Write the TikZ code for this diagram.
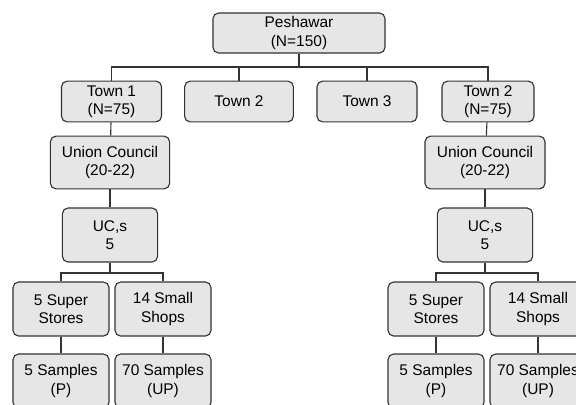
\documentclass[tikz,border=0pt]{standalone}
\usepackage{fontspec}
\setmainfont{Liberation Sans}
\definecolor{boxfill}{HTML}{E6E6E6}
\definecolor{boxline}{HTML}{333333}
\tikzset{
  unit/.style={draw=boxline, fill=boxfill, line width=0.8pt, rounded corners=4pt,
    align=center, inner sep=0pt, minimum height=1.35cm, minimum width=2.4cm,
    font=\fontsize{11}{13}\selectfont},
  town/.style={unit, minimum height=1.02cm},
  link/.style={draw=boxline, line width=0.8pt}
}
\begin{document}
\begin{tikzpicture}[x=0.025cm, y=-0.025cm]
\path[use as bounding box, clip] (0,0) rectangle (576,404);

\node[town, minimum width=4.3cm, minimum height=1cm] (pesh) at (299,33) {Peshawar\\(N=150)};
\node[town, minimum width=2.5cm] (t1) at (111.5,101.5) {Town 1\\(N=75)};
\node[town, minimum width=2.72cm] (t2) at (239,101.5) {Town 2};
\node[town, minimum width=2.5cm] (t3) at (367,101.5) {Town 3};
\node[town, minimum width=2.3cm] (t4) at (488,101.5) {Town 2\\(N=75)};

\node[unit, minimum width=2.98cm, minimum height=1.32cm] (uc1) at (110,162.5) {Union Council\\(20-22)};
\node[unit, minimum width=2.38cm] (ucs1) at (110,235) {UC,s\\5};
\node[unit] (ss1) at (61,309) {5 Super\\Stores};
\node[unit] (sh1) at (163,309) {14 Small\\Shops};
\node[unit] (sa1) at (61,381) {5 Samples\\(P)};
\node[unit] (sa2) at (163,381) {70 Samples\\(UP)};

\node[unit, minimum width=3cm, minimum height=1.32cm] (uc2) at (485,162.5) {Union Council\\(20-22)};
\node[unit, minimum width=2.38cm] (ucs2) at (485,235) {UC,s\\5};
\node[unit] (ss2) at (436,309) {5 Super\\Stores};
\node[unit] (sh2) at (538,309) {14 Small\\Shops};
\node[unit] (sa3) at (436,381) {5 Samples\\(P)};
\node[unit] (sa4) at (538,381) {70 Samples\\(UP)};

\coordinate (bus) at (299,67);
\coordinate (br1) at (110,273);
\coordinate (br2) at (485,273);

\draw[link] (pesh) -- (bus);
\draw[link] (bus) -| (t1);
\draw[link] (bus) -| (t2);
\draw[link] (bus) -| (t3);
\draw[link] (bus) -| (t4);

\draw[link] (t1) -- (uc1);
\draw[link] (uc1) -- (ucs1);
\draw[link] (ucs1) -- (br1);
\draw[link] (br1) -| (ss1);
\draw[link] (br1) -| (sh1);
\draw[link] (ss1) -- (sa1);
\draw[link] (sh1) -- (sa2);

\draw[link] (t4) -- (uc2);
\draw[link] (uc2) -- (ucs2);
\draw[link] (ucs2) -- (br2);
\draw[link] (br2) -| (ss2);
\draw[link] (br2) -| (sh2);
\draw[link] (ss2) -- (sa3);
\draw[link] (sh2) -- (sa4);

\end{tikzpicture}
\end{document}
